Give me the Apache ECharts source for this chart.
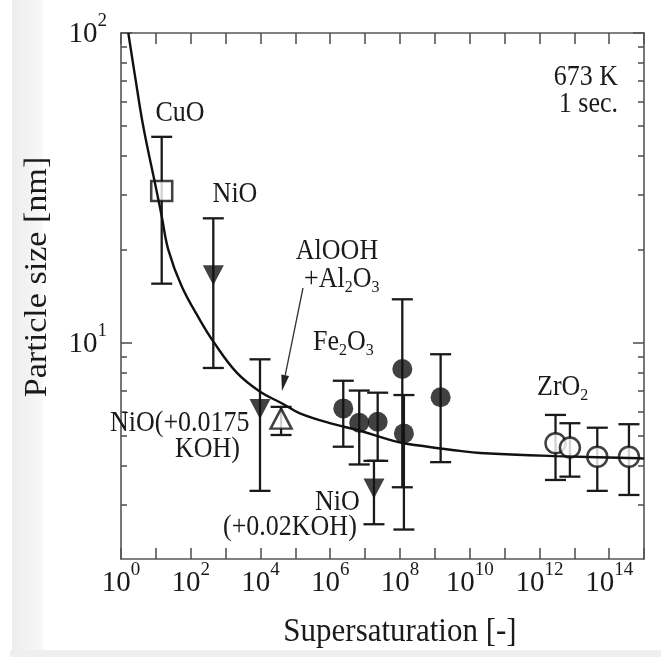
<!DOCTYPE html>
<html><head><meta charset="utf-8">
<script src="https://cdn.jsdelivr.net/npm/echarts@6/dist/echarts.min.js"></script>
<style>html,body{margin:0;padding:0;background:#fff}#c{width:661px;height:657px}</style>
</head><body><div id="c"></div>
<script>
// ---------- data ----------
// fitted curve: supersaturation S and particle size d [nm]
const curveS = [1.62, 2.63, 4.37, 10.5, 14.8, 22.9, 55, 186, 447, 2090, 9770, 40700, 1.35e5, 1.26e6, 6.76e6, 5.13e7, 1.26e8, 5.25e9, 2.0e10, 2.95e12, 7.59e14, 1e15];
const curveD = [100, 70.5, 49.8, 30.9, 25.5, 19.9, 15.2, 11.8, 10.07, 8.0, 6.94, 6.37, 5.91, 5.45, 5.2, 4.85, 4.73, 4.47, 4.4, 4.3, 4.23, 4.22];

const cuoS = [14.7], cuoD = [30.9], cuoLo = [15.5], cuoHi = [46.2];
const nioS = [444, 9.7e3, 1.8e7], nioD = [16.5, 6.10, 3.38], nioLo = [8.28, 3.32, 2.59], nioHi = [25.2, 8.83, 4.15];
const alS = [3.9e4], alD = [5.68], alLo = [5.03], alHi = [6.2];
const feS = [2.37e6, 6.8e6, 2.3e7, 1.17e8, 1.3e8, 1.47e9];
const feD = [6.13, 5.51, 5.55, 8.22, 5.09, 6.66];
const feLo = [4.61, 4.04, 4.15, 3.41, 2.49, 4.11];
const feHi = [7.53, 7.0, 6.89, 13.8, 6.77, 9.17];
const zrS = [2.9e12, 7.5e12, 4.57e13, 3.7e14];
const zrD = [4.73, 4.58, 4.28, 4.28];
const zrLo = [3.6, 3.69, 3.32, 3.22];
const zrHi = [5.84, 5.49, 5.31, 5.45];

const xLabelExps = [0, 2, 4, 6, 8, 10, 12, 14];
const yLabelExps = [1, 2];
const yMinorTicks = [3, 4, 5, 6, 7, 8, 9, 20, 30, 40, 50, 60, 70, 80, 90];
const xRange = [1, 1e15];
const yRange = [2, 100];

// ---------- helpers ----------
const L = Math.log10;
const FONT = '"Liberation Serif", "Times New Roman", serif';
const INK = '#1a1a1a';
const FRAME = '#555';

function pts(S, D) { return S.map((s, i) => [L(s), L(D[i])]); }
function bars(S, lo, hi) { return S.map((s, i) => [L(s), L(lo[i]), L(hi[i])]); }

const supRich = {
  b: { fontSize: 29, lineHeight: 32, verticalAlign: 'bottom', fontFamily: FONT, color: INK },
  s: { fontSize: 19, lineHeight: 20, verticalAlign: 'bottom', padding: [0, 0, 18, 0], fontFamily: FONT, color: INK }
};
const subRich = {
  m: { fontSize: 26, lineHeight: 28, verticalAlign: 'top', padding: [0, 0, 3, 0], fontFamily: FONT, fill: INK, color: INK },
  s: { fontSize: 16, lineHeight: 18, verticalAlign: 'bottom', fontFamily: FONT, fill: INK, color: INK }
};

function errRender(params, api) {
  const x = api.value(0), lo = api.value(1), hi = api.value(2);
  const a = api.coord([x, hi]), b = api.coord([x, lo]);
  const h = 10.5;
  const st = { stroke: '#1a1a1a', lineWidth: 2.3 };
  return { type: 'group', children: [
    { type: 'line', shape: { x1: a[0], y1: a[1], x2: b[0], y2: b[1] }, style: st },
    { type: 'line', shape: { x1: a[0] - h, y1: a[1], x2: a[0] + h, y2: a[1] }, style: st },
    { type: 'line', shape: { x1: b[0] - h, y1: b[1], x2: b[0] + h, y2: b[1] }, style: st }
  ]};
}
function errSeries(S, lo, hi) {
  return { type: 'custom', renderItem: errRender, data: bars(S, lo, hi), encode: { x: 0, y: [1, 2] }, z: 1, clip: false, silent: true };
}

const axisLineStyle = { color: FRAME, width: 1.6 };
function xAx(pos, labels) {
  return {
    type: 'value', position: pos, min: L(xRange[0]), max: L(xRange[1]), interval: 1,
    axisLine: { show: true, onZero: false, lineStyle: axisLineStyle },
    axisTick: { show: true, inside: true, length: 11, lineStyle: axisLineStyle },
    axisLabel: labels ? {
      show: true, margin: 7, rich: supRich,
      formatter: v => xLabelExps.indexOf(Math.round(v)) >= 0 && Math.abs(v - Math.round(v)) < 1e-6 ? '{b|10}{s|' + Math.round(v) + '}' : ''
    } : { show: false },
    splitLine: { show: false }
  };
}
function yAx(pos, major, labels) {
  const tv = major ? yLabelExps : yMinorTicks.map(L);
  return {
    type: 'value', position: pos, min: L(yRange[0]), max: L(yRange[1]),
    axisLine: { show: major, onZero: false, lineStyle: axisLineStyle },
    axisTick: { show: true, inside: true, length: major ? 11 : 6, customValues: tv, lineStyle: axisLineStyle },
    axisLabel: labels ? { show: true, margin: 14, rich: supRich, customValues: yLabelExps,
      formatter: v => '{b|10}{s|' + Math.round(v) + '}' } : { show: false },
    splitLine: { show: false }
  };
}

const SY = 1.1; // the reference text is slightly taller than wide
function txt(x, y, text, opts) {
  return { type: 'text', x: x, y: y, z: 10, scaleY: SY, style: Object.assign({
    text: text, fontFamily: FONT, fontSize: 26, fill: INK, align: 'center', verticalAlign: 'middle', rich: subRich
  }, opts || {}) };
}

// arrow geometry (annotation)
const arrowTail = [303, 288], arrowTip = [282, 391];
const adx = arrowTip[0] - arrowTail[0], ady = arrowTip[1] - arrowTail[1];
const alen = Math.hypot(adx, ady), ux = adx / alen, uy = ady / alen;
const baseC = [arrowTip[0] - 16 * ux, arrowTip[1] - 16 * uy];

const openStyle = { color: '#fff', borderColor: '#111', borderWidth: 2.5 };

const chart = echarts.init(document.getElementById('c'), null, { renderer: 'canvas' });
chart.setOption({
  animation: false,
  backgroundColor: '#fff',
  grid: { left: 121, top: 33, right: 17, bottom: 98, containLabel: false },
  xAxis: [xAx('bottom', true), xAx('top', false)],
  yAxis: [yAx('left', true, true), yAx('left', false, false), yAx('right', true, false), yAx('right', false, false)],
  series: [
    errSeries(cuoS, cuoLo, cuoHi),
    errSeries(nioS, nioLo, nioHi),
    errSeries(alS, alLo, alHi),
    errSeries(feS, feLo, feHi),
    errSeries(zrS, zrLo, zrHi),
    { type: 'scatter', name: 'CuO', data: pts(cuoS, cuoD), symbol: 'rect', symbolSize: [21, 20], z: 2, itemStyle: openStyle },
    { type: 'scatter', name: 'NiO', data: pts(nioS, nioD), symbol: 'triangle', symbolRotate: 180, symbolSize: [21, 20], z: 2,
      itemStyle: { color: '#111' } },
    { type: 'scatter', name: 'AlOOH', data: pts(alS, alD), symbol: 'triangle', symbolSize: [21, 20], z: 2, itemStyle: openStyle },
    { type: 'scatter', name: 'Fe2O3', data: pts(feS, feD), symbol: 'circle', symbolSize: 20, z: 2,
      itemStyle: { color: '#111' } },
    { type: 'scatter', name: 'ZrO2', data: pts(zrS, zrD), symbol: 'circle', symbolSize: 20, z: 2, itemStyle: openStyle },
    { type: 'line', name: 'fit', data: pts(curveS, curveD), smooth: 0.4, showSymbol: false, z: 3,
      lineStyle: { color: '#111', width: 2.4 } }
  ],
  graphic: [
    { type: 'rect', z: -10, shape: { x: 12, y: 0, width: 31, height: 650 },
      style: { fill: new echarts.graphic.LinearGradient(0, 0, 1, 0, [{ offset: 0, color: '#ededed' }, { offset: 1, color: '#f8f8f8' }]) } },
    { type: 'rect', z: -10, shape: { x: 10, y: 650, width: 651, height: 7 }, style: { fill: '#efefef' } },
    txt(400, 632, 'Supersaturation [-]', { fontSize: 31, rich: null }),
    { type: 'text', x: 38, y: 277, rotation: Math.PI / 2, scaleX: SY, z: 10,
      style: { text: 'Particle size [nm]', fontFamily: FONT, fontSize: 31, fill: INK, align: 'center', verticalAlign: 'middle' } },
    txt(618, 77, '673 K', { align: 'right', rich: null }),
    txt(618, 104, '1 sec.', { align: 'right', rich: null }),
    txt(180, 113, 'CuO', { rich: null }),
    txt(235, 194, 'NiO', { rich: null }),
    txt(337, 251, 'AlOOH', { rich: null }),
    txt(304, 281, '{m|+Al}{s|2}{m|O}{s|3}', { align: 'left' }),
    txt(313, 344, '{m|Fe}{s|2}{m|O}{s|3}', { align: 'left' }),
    txt(110, 423, 'NiO(+0.0175', { align: 'left', rich: null }),
    txt(175, 449, 'KOH)', { align: 'left', rich: null }),
    txt(315, 502, 'NiO', { align: 'left', rich: null }),
    txt(223, 527, '(+0.02KOH)', { align: 'left', rich: null }),
    txt(537, 389, '{m|ZrO}{s|2}', { align: 'left' }),
    { type: 'line', z: 10, shape: { x1: arrowTail[0], y1: arrowTail[1], x2: baseC[0], y2: baseC[1] },
      style: { stroke: '#333', lineWidth: 1.3 } },
    { type: 'polygon', z: 10, shape: { points: [arrowTip, [baseC[0] + 4 * uy, baseC[1] - 4 * ux], [baseC[0] - 4 * uy, baseC[1] + 4 * ux]] },
      style: { fill: '#222' } }
  ]
});
</script></body></html>
